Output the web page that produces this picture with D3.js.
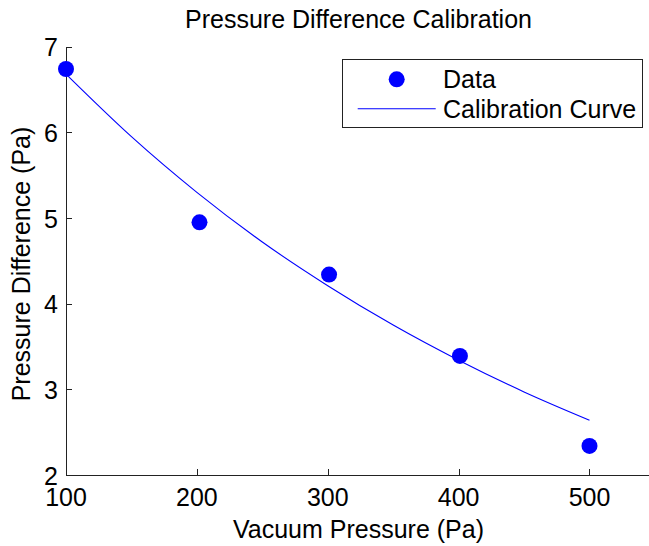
<!DOCTYPE html>
<html>
<head>
<meta charset="utf-8">
<script src="https://cdn.jsdelivr.net/npm/d3@7/dist/d3.min.js"></script>
<style>
  body { margin: 0; background: #fff; }
  svg { display: block; font-family: "Liberation Sans", Arial, sans-serif; }
  text { fill: #000; }
</style>
</head>
<body>
<svg id="chart" width="649" height="546"></svg>
<script>
// measured points
var vacuum = [100, 202, 301, 401, 500];
var pressureDiff = [6.74, 4.95, 4.34, 3.39, 2.34];

// fitted calibration curve
var curveVacuum = [100, 150, 200, 250, 300, 350, 400, 450, 500];
var curvePressure = [6.68, 5.95, 5.30, 4.72, 4.21, 3.75, 3.34, 2.97, 2.64];

var xTicks = [100, 200, 300, 400, 500];
var yTicks = [2, 3, 4, 5, 6, 7];

var svg = d3.select("#chart");
// plot box (window.top is reserved, so prefixed names)
var plotLeft = 66, plotRight = 651, plotTop = 46.7, plotBottom = 475;
var fontSize = 25;

var x = d3.scaleLinear().domain([100, 547]).range([plotLeft, plotRight]);
var y = d3.scaleLinear().domain([2, 7]).range([plotBottom, plotTop]);

// x axis, ticks pointing inward
var xAxis = svg.append("g")
  .attr("transform", `translate(0, ${plotBottom})`)
  .call(d3.axisTop(x).tickValues(xTicks).tickSize(6).tickFormat(""));
xAxis.select(".domain").attr("d", `M${plotLeft},0H${plotRight}`);
xAxis.selectAll("path, line").attr("stroke", "#222").attr("shape-rendering", "crispEdges");

svg.append("g")
  .selectAll("text")
  .data(xTicks)
  .enter()
  .append("text")
    .attr("x", d => x(d))
    .attr("y", 506)
    .attr("text-anchor", "middle")
    .style("font-size", fontSize + "px")
    .text(d => d);

// y axis
var yAxis = svg.append("g")
  .attr("transform", `translate(${plotLeft}, 0)`)
  .call(d3.axisRight(y).tickValues(yTicks).tickSize(6).tickFormat(""));
yAxis.select(".domain").attr("d", `M0,${plotTop}V${plotBottom}`);
yAxis.selectAll("path, line").attr("stroke", "#222").attr("shape-rendering", "crispEdges");

svg.append("g")
  .selectAll("text")
  .data(yTicks)
  .enter()
  .append("text")
    .attr("x", 58)
    .attr("y", d => y(d) + 9.5)
    .attr("text-anchor", "end")
    .style("font-size", fontSize + "px")
    .text(d => d);

// calibration curve
var line = d3.line()
  .x((d, i) => x(curveVacuum[i]))
  .y(d => y(d))
  .curve(d3.curveMonotoneX);

svg.append("path")
  .datum(curvePressure)
  .attr("d", line)
  .attr("fill", "none")
  .attr("stroke", "#0000ff")
  .attr("stroke-width", 1.1);

// data points
svg.append("g")
  .selectAll("circle")
  .data(vacuum)
  .enter()
  .append("circle")
    .attr("cx", d => x(d))
    .attr("cy", (d, i) => y(pressureDiff[i]))
    .attr("r", 8)
    .attr("fill", "#0000ff");

// titles
svg.append("text")
  .attr("x", (plotLeft + plotRight) / 2)
  .attr("y", 28)
  .attr("text-anchor", "middle")
  .style("font-size", fontSize + "px")
  .text("Pressure Difference Calibration");

svg.append("text")
  .attr("x", (plotLeft + plotRight) / 2)
  .attr("y", 538)
  .attr("text-anchor", "middle")
  .style("font-size", fontSize + "px")
  .text("Vacuum Pressure (Pa)");

svg.append("text")
  .attr("transform", "rotate(-90)")
  .attr("x", -264)
  .attr("y", 30)
  .attr("text-anchor", "middle")
  .style("font-size", fontSize + "px")
  .text("Pressure Difference (Pa)");

// legend
var legend = svg.append("g");
legend.append("rect")
  .attr("x", 342.5)
  .attr("y", 59.5)
  .attr("width", 300)
  .attr("height", 68)
  .attr("fill", "#fff")
  .attr("stroke", "#222")
  .attr("stroke-width", 1);

legend.append("circle")
  .attr("cx", 396.7)
  .attr("cy", 79.3)
  .attr("r", 8)
  .attr("fill", "#0000ff");

legend.append("line")
  .attr("x1", 357.7)
  .attr("x2", 435.7)
  .attr("y1", 108.7)
  .attr("y2", 108.7)
  .attr("stroke", "#0000ff")
  .attr("stroke-width", 1.1);

legend.append("text")
  .attr("x", 443)
  .attr("y", 88)
  .style("font-size", fontSize + "px")
  .text("Data");

legend.append("text")
  .attr("x", 443)
  .attr("y", 117.5)
  .style("font-size", fontSize + "px")
  .text("Calibration Curve");
</script>
</body>
</html>
